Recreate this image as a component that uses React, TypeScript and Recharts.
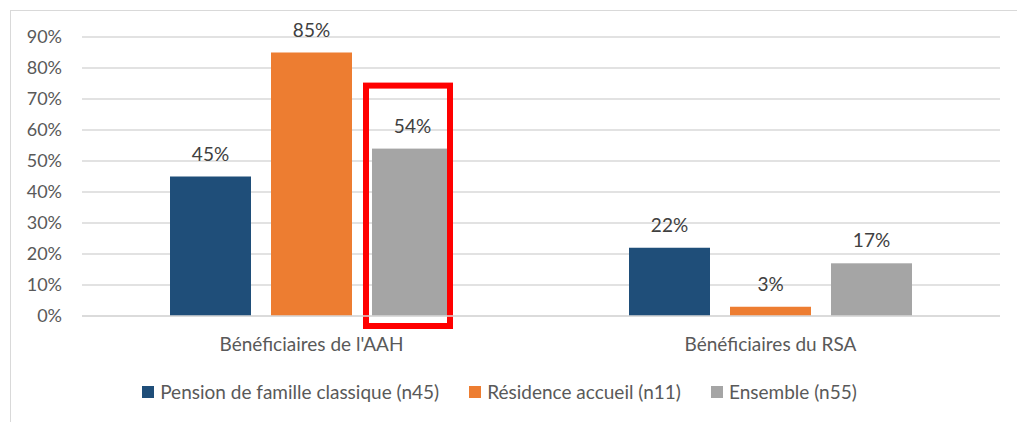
import { Bar, BarChart, CartesianGrid, LabelList, XAxis, YAxis } from "recharts";

const categories = ["Bénéficiaires de l'AAH", "Bénéficiaires du RSA"];
const pension = [45, 22];
const residence = [85, 3];
const ensemble = [54, 17];
const yTicks = [0, 10, 20, 30, 40, 50, 60, 70, 80, 90];

const series = [
  { key: "pension", name: "Pension de famille classique (n45)", color: "#1F4E79" },
  { key: "residence", name: "Résidence accueil (n11)", color: "#ED7D31" },
  { key: "ensemble", name: "Ensemble (n55)", color: "#A5A5A5" }
];

const data = categories.map((label, i) => ({
  label,
  pension: pension[i],
  residence: residence[i],
  ensemble: ensemble[i]
}));

const FONT = "Lato, sans-serif";
const TEXT = "#595959";

// bar with the red highlight frame on the first group
function FramedBar(props: any) {
  const { x, y, width, height, fill, index } = props;
  return (
    <g>
      <rect x={x} y={y} width={width} height={height} fill={fill} />
      {index === 0 && (
        <rect
          x={x - 6}
          y={y - 63}
          width={width + 3}
          height={height + 73}
          fill="none"
          stroke="#FF0000"
          strokeWidth={6}
        />
      )}
    </g>
  );
}

export default function App() {
  return (
    <div
      style={{
        position: "absolute",
        left: 0,
        top: 0,
        width: 1017,
        height: 422,
        background: "#fff",
        fontFamily: FONT,
        overflow: "hidden"
      }}
    >
      <div
        style={{
          position: "absolute",
          left: 10,
          top: 10,
          width: 1020,
          height: 430,
          border: "1px solid #d9d9d9"
        }}
      />
      <div style={{ position: "absolute", left: 0, top: 0 }}>
        <BarChart
          width={1017}
          height={422}
          data={data}
          margin={{ top: 37, right: 17, left: 0, bottom: 66 }}
          barCategoryGap={86}
          barGap={20}
        >
          <CartesianGrid vertical={false} stroke="#d9d9d9" strokeWidth={1.5} />
          <XAxis
            dataKey="label"
            height={40}
            tickLine={false}
            axisLine={{ stroke: "#d9d9d9", strokeWidth: 1.5 }}
            tickSize={0}
            tickMargin={22}
            tick={{ fill: TEXT, fontSize: 19, fontFamily: FONT }}
          />
          <YAxis
            width={82}
            domain={[0, 90]}
            ticks={yTicks}
            tickFormatter={(v) => `${v}%`}
            tickLine={false}
            axisLine={false}
            tickSize={0}
            tickMargin={20}
            tick={{ fill: TEXT, fontSize: 18, fontFamily: FONT }}
          />
          {series.map((s) => (
            <Bar
              key={s.key}
              dataKey={s.key}
              name={s.name}
              fill={s.color}
              barSize={81}
              isAnimationActive={false}
              shape={s.key === "ensemble" ? FramedBar : undefined}
            >
              <LabelList
                dataKey={s.key}
                position="top"
                offset={16}
                formatter={(v: any) => `${v}%`}
                style={{ fill: "#404040", fontSize: 19, fontFamily: FONT }}
              />
            </Bar>
          ))}
        </BarChart>
      </div>
      <div
        style={{
          position: "absolute",
          left: -9,
          width: 1017,
          top: 380,
          display: "flex",
          justifyContent: "center",
          gap: 30,
          fontSize: 19,
          color: TEXT
        }}
      >
        {series.map((s) => (
          <div key={s.key} style={{ display: "flex", alignItems: "center", gap: 6 }}>
            <span style={{ width: 12, height: 12, background: s.color, display: "inline-block" }} />
            <span>{s.name}</span>
          </div>
        ))}
      </div>
    </div>
  );
}
